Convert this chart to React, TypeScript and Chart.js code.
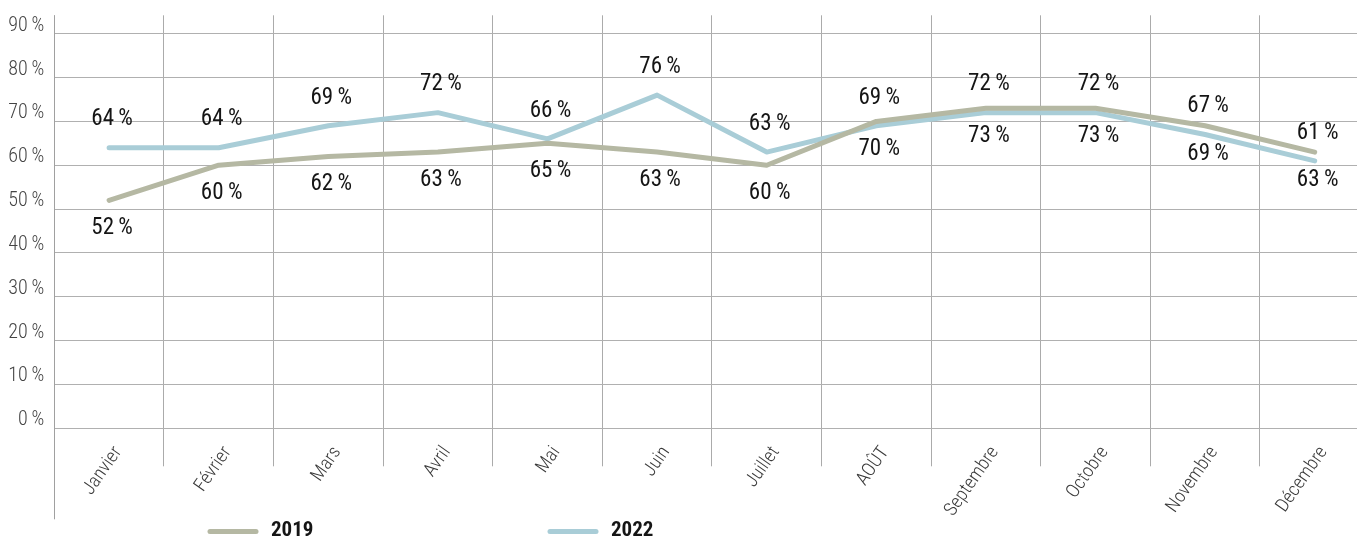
import React, { useEffect, useRef } from 'react';
import { Chart, registerables } from 'chart.js';

Chart.register(...registerables);

const months = ['Janvier', 'Février', 'Mars', 'Avril', 'Mai', 'Juin', 'Juillet', 'AOÛT', 'Septembre', 'Octobre', 'Novembre', 'Décembre'];
const values2019 = [52, 60, 62, 63, 65, 63, 60, 70, 73, 73, 69, 63];
const values2022 = [64, 64, 69, 72, 66, 76, 63, 69, 72, 72, 67, 61];
const yTickValues = [0, 10, 20, 30, 40, 50, 60, 70, 80, 90];
const seriesNames = ['2019', '2022'];

const FONT = '"Roboto Condensed", "DejaVu Sans Condensed", "Roboto", sans-serif';
const COLOR_2019 = '#b5b8a3';
const COLOR_2022 = '#a9cdd7';

const labelsPlugin = {
  id: 'valueLabels',
  afterDatasetsDraw(chart: any) {
    const ctx = chart.ctx;
    ctx.save();
    ctx.font = `400 23px ${FONT}`;
    ctx.fillStyle = '#151515';
    ctx.textAlign = 'center';
    ctx.textBaseline = 'middle';
    chart.data.datasets.forEach((ds: any, di: number) => {
      const meta = chart.getDatasetMeta(di);
      meta.data.forEach((pt: any, i: number) => {
        const v = ds.data[i];
        const dy = di === 0 ? 28 : -28;
        ctx.fillText(`${v}\u2009%`, pt.x + 3, pt.y + dy);
      });
    });
    ctx.restore();
  },
};

const framePlugin = {
  id: 'frame',
  afterDraw(chart: any) {
    const ctx = chart.ctx;
    const area = chart.chartArea;
    ctx.save();
    ctx.strokeStyle = '#a0a0a0';
    ctx.lineWidth = 1;
    ctx.beginPath();
    ctx.moveTo(Math.round(area.left) + 0.5, area.top);
    ctx.lineTo(Math.round(area.left) + 0.5, area.bottom + 91);
    ctx.stroke();
    const items = [
      { name: seriesNames[0], color: COLOR_2019, x: 208 },
      { name: seriesNames[1], color: COLOR_2022, x: 548 },
    ];
    const ly = 531.5;
    items.forEach((it) => {
      ctx.strokeStyle = it.color;
      ctx.lineWidth = 5;
      ctx.lineCap = 'round';
      ctx.beginPath();
      ctx.moveTo(it.x + 2, ly);
      ctx.lineTo(it.x + 48, ly);
      ctx.stroke();
      ctx.fillStyle = '#151515';
      ctx.font = `bold 21px ${FONT}`;
      ctx.textAlign = 'left';
      ctx.textBaseline = 'alphabetic';
      ctx.fillText(it.name, it.x + 63, 536);
    });
    ctx.restore();
  },
};

export default function App() {
  const ref = useRef<HTMLCanvasElement>(null);
  useEffect(() => {
    const canvas = ref.current!;
    const chart = new Chart(canvas, {
      type: 'line',
      data: {
        labels: months,
        datasets: [
          {
            label: seriesNames[0],
            data: values2019,
            borderColor: COLOR_2019,
            borderWidth: 5,
            pointRadius: 0,
            tension: 0,
            borderCapStyle: 'round',
            borderJoinStyle: 'round',
          },
          {
            label: seriesNames[1],
            data: values2022,
            borderColor: COLOR_2022,
            borderWidth: 5,
            pointRadius: 0,
            tension: 0,
            borderCapStyle: 'round',
            borderJoinStyle: 'round',
          },
        ],
      },
      options: {
        animation: false,
        responsive: false,
        maintainAspectRatio: false,
        layout: { padding: { left: 0, right: 10.5, top: 15.3, bottom: 0 } },
        plugins: { legend: { display: false }, tooltip: { enabled: false } },
        scales: {
          x: {
            offset: true,
            grid: {
              offset: true,
              color: '#ababab',
              lineWidth: 1,
              drawTicks: true,
              tickLength: 38,
            },
            border: { display: false },
            ticks: {
              minRotation: 55,
              maxRotation: 55,
              padding: -24,
              labelOffset: 9,
              color: '#3a3a3a',
              font: { family: FONT, size: 19, weight: '300' },
              autoSkip: false,
            },
            afterFit: (axis: any) => {
              axis.height = 537 - 428.3;
              axis.paddingLeft = 0;
              axis.paddingRight = 0;
              axis.paddingTop = 0;
              axis.paddingBottom = 0;
            },
          },
          y: {
            min: 0,
            max: 94.2,
            grid: { color: '#b0b0b0', lineWidth: 1, drawTicks: false },
            border: { display: false },
            ticks: {
              stepSize: 10,
              padding: 10,
              labelOffset: -8,
              color: '#444444',
              font: { family: FONT, size: 20, weight: '300' },
              callback: (v: any) => `${v}\u2009%`,
            },
            afterBuildTicks: (axis: any) => {
              axis.ticks = yTickValues.map((v) => ({ value: v }));
            },
            afterFit: (axis: any) => {
              axis.width = 54.3;
              axis.paddingTop = 0;
              axis.paddingBottom = 0;
              axis.paddingLeft = 0;
              axis.paddingRight = 0;
            },
          },
        },
      },
      plugins: [labelsPlugin, framePlugin],
    });
    return () => chart.destroy();
  }, []);
  return (
    <div style={{ position: 'fixed', left: 0, top: 0, width: 1357, height: 537, overflow: 'hidden', background: '#fff' }}>
      <canvas ref={ref} width={1380} height={537} style={{ width: 1380, height: 537, display: 'block' }} />
    </div>
  );
}
